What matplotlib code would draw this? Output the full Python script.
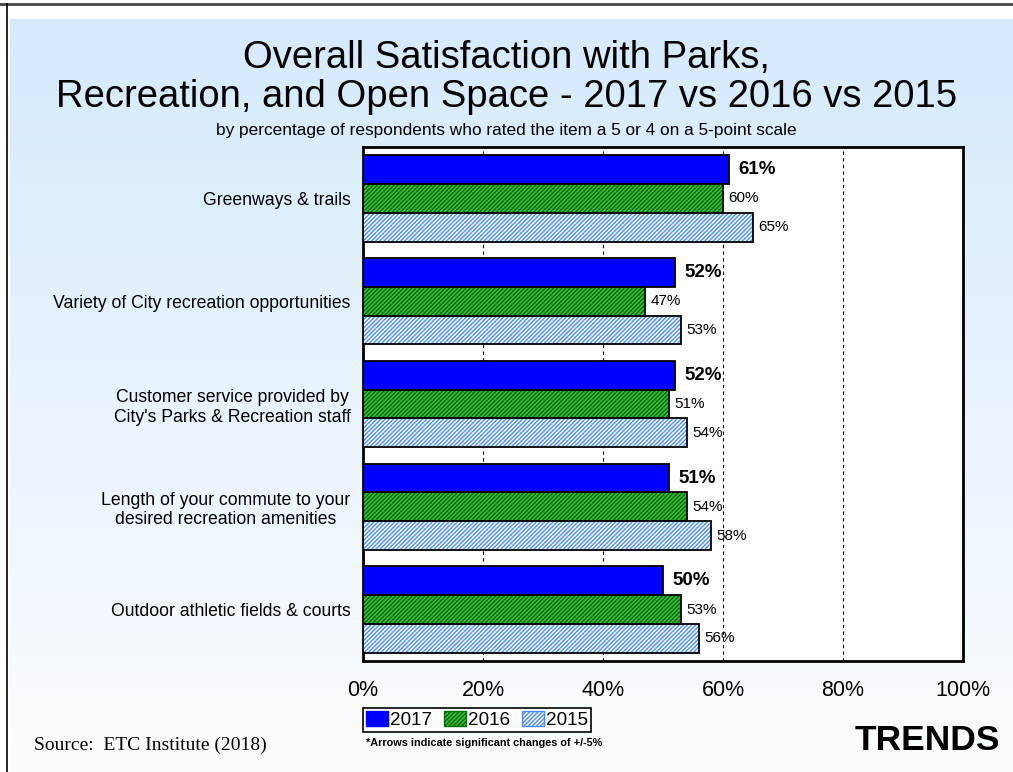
import numpy as np
import matplotlib.pyplot as plt
from matplotlib.patches import Patch
from matplotlib.lines import Line2D

plt.rcParams['font.family'] = ['Liberation Sans', 'DejaVu Sans']
plt.rcParams['hatch.linewidth'] = 1.0

# data
categories = ["Greenways & trails",
              "Variety of City recreation opportunities",
              "Customer service provided by\nCity's Parks & Recreation staff",
              "Length of your commute to your\ndesired recreation amenities",
              "Outdoor athletic fields & courts"]
years = ["2017", "2016", "2015"]
v2017 = [61, 52, 52, 51, 50]
v2016 = [60, 47, 51, 54, 53]
v2015 = [65, 53, 54, 58, 56]

fig = plt.figure(figsize=(10.13, 7.72), dpi=100)

# background gradient + frame lines
bg = fig.add_axes([10/1013, 0, 1 - 10/1013, 1 - 19/772], zorder=-10)
grad = np.linspace(0, 1, 256).reshape(-1, 1)
top = np.array([0.835, 0.918, 0.988])
bot = np.array([0.985, 0.992, 1.0])
img = top + (bot - top) * grad[..., None]
bg.imshow(img, aspect='auto', extent=[0, 1, 0, 1])
bg.axis('off')
fig.add_artist(Line2D([0, 1], [1 - 4/772, 1 - 4/772], color='#444444', lw=2))
fig.add_artist(Line2D([7/1013, 7/1013], [0, 1 - 4/772], color='black', lw=1.2))

ax = fig.add_axes([363/1013, 1 - 661/772, 600/1013, 514/772])
ax.set_facecolor('white')

y = np.arange(len(categories))
h = 0.28
ys = [y - h, y, y + h]
vals = [v2017, v2016, v2015]
faces = ['#0000ff', '#44b844', 'white']
hatchc = ['#0000ff', '#007000', '#4a8cff']
hatches = [None, '////////', '////////']

for i in range(3):
    ax.barh(ys[i], vals[i], height=h, color=faces[i], edgecolor=hatchc[i],
            hatch=hatches[i], linewidth=0, zorder=3)
    ax.barh(ys[i], vals[i], height=h, fill=False, edgecolor='black',
            linewidth=1.3, zorder=4)
    for yy, v in zip(ys[i], vals[i]):
        if i == 0:
            ax.annotate(f"{v}%", (v, yy), xytext=(7, 0), textcoords='offset points',
                        va='center', ha='left', fontsize=13.5, fontweight='bold', zorder=5)
        else:
            ax.annotate(f"{v}%", (v, yy), xytext=(4, 0), textcoords='offset points',
                        va='center', ha='left', fontsize=11, zorder=5)

ax.set_xlim(0, 100)
ax.set_ylim(len(categories) - 0.5, -0.5)
ax.set_xticks([0, 20, 40, 60, 80, 100])
ax.set_xticklabels([f"{t}%" for t in [0, 20, 40, 60, 80, 100]], fontsize=15.5)
ax.tick_params(axis='x', length=0, pad=14)
ax.set_yticks(y)
ax.set_yticklabels(categories, fontsize=12.7, multialignment='center')
ax.tick_params(axis='y', length=0, pad=9)
for gx in [20, 40, 60, 80]:
    ax.axvline(gx, color='black', lw=0.8, ls=(0, (3, 3)), zorder=1)
for s in ax.spines.values():
    s.set_linewidth(2)

# titles
fig.text(0.5, 1 - 58/772, "Overall Satisfaction with Parks,", ha='center', va='center', fontsize=27.5)
fig.text(0.5, 1 - 97/772, "Recreation, and Open Space - 2017 vs 2016 vs 2015", ha='center', va='center', fontsize=27.5)
fig.text(0.5, 1 - 131/772, "by percentage of respondents who rated the item a 5 or 4 on a 5-point scale",
         ha='center', va='center', fontsize=12.4)

handles = [Patch(facecolor=faces[i], edgecolor=hatchc[i], hatch=hatches[i], lw=1) for i in range(3)]
leg = fig.legend(handles, years, loc='center', bbox_to_anchor=(477/1013, 1 - 720/772), ncol=3,
                 fontsize=13.6, frameon=True, fancybox=False, edgecolor='black', framealpha=1,
                 handlelength=1.2, handleheight=0.8, handletextpad=0.1, columnspacing=0.6,
                 borderpad=0.15, borderaxespad=0)
leg.get_frame().set_linewidth(1.2)

fig.text(366/1013, 1 - 743/772, "*Arrows indicate significant changes of +/-5%",
         ha='left', va='center', fontsize=7.8, fontweight='bold')
fig.text(34/1013, 1 - 745/772, "Source:  ETC Institute (2018)", ha='left', va='center',
         fontsize=14, family='Liberation Serif')
fig.text(1000/1013, 1 - 740/772, "TRENDS", ha='right', va='center', fontsize=25.5, fontweight='bold')

fig.savefig("out.png", dpi=100)
